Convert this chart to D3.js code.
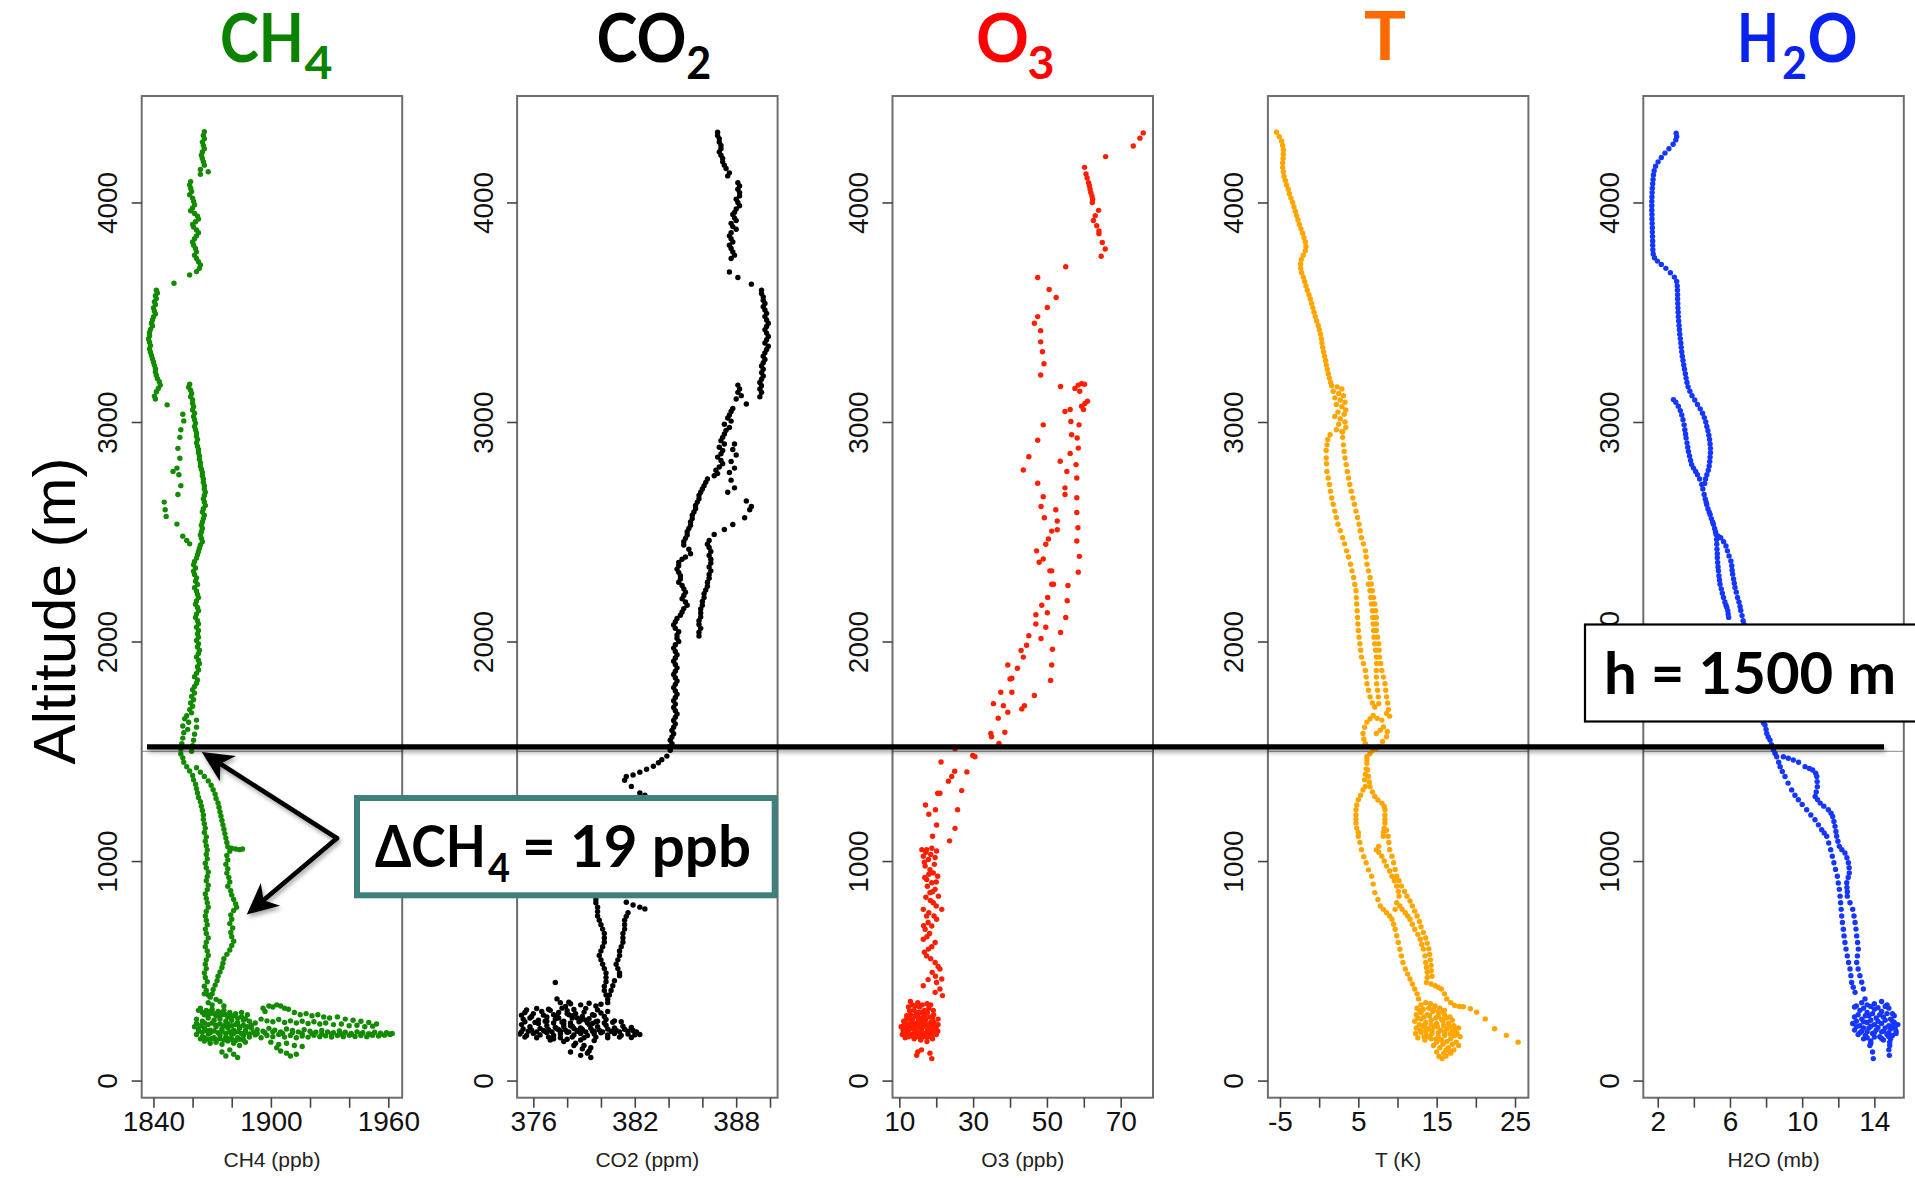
<!DOCTYPE html>
<html><head><meta charset="utf-8">
<script src="https://cdn.jsdelivr.net/npm/d3@7"></script>
<style>
html,body{margin:0;padding:0;background:#fff;}
svg{display:block;}
</style></head>
<body>
<svg id="chart" width="1915" height="1178"></svg>
<script>
// ---------------- DATA ----------------
const altitudeDomain = [-78, 4485];
const altitudeTicks = [0, 1000, 2000, 3000, 4000];
const boundaryAltitude = 1500;        // thin reference line in each panel
const boundaryLineAltitude = 1520;    // thick annotation line as drawn

const ch4Domain = [1834, 1967.1];
const ch4Ticks = [1840, 1860, 1880, 1900, 1920, 1940, 1960];
const ch4TickLabels = [1840, 1900, 1960];
const co2Domain = [375.04, 390.45];
const co2Ticks = [376, 378, 380, 382, 384, 386, 388, 390];
const co2TickLabels = [376, 382, 388];
const o3Domain = [8.15, 78.75];
const o3Ticks = [10, 20, 30, 40, 50, 60, 70];
const o3TickLabels = [10, 30, 50, 70];
const tDomain = [-6.54, 26.71];
const tTicks = [-5, 0, 5, 10, 15, 20, 25];
const tTickLabels = [-5, 5, 15, 25];
const h2oDomain = [1.2, 15.63];
const h2oTicks = [2, 4, 6, 8, 10, 12, 14];
const h2oTickLabels = [2, 6, 10, 14];

const axisTitles = ["CH4 (ppb)", "CO2 (ppm)", "O3 (ppb)", "T (K)", "H2O (mb)"];
const panelTitles = [[["CH", 0], ["4", 1]], [["CO", 0], ["2", 1]], [["O", 0], ["3", 1]], [["T", 0]], [["H", 0], ["2", 1], ["O", 0]]];
const yAxisTitle = "Altitude (m)";
const deltaLabel = [["ΔCH", 0], ["4", 1], ["= 19 ppb", 0]];
const heightLabel = "h = 1500 m";
// arrow annotation, in CH4 panel units [ppb, m]
const arrowApex = [1933.75, 1104];
const arrowTips = [[1864.7, 1497], [1887.7, 757]];

const ch4Data = [
[1866,4322],[1865.5,4305],[1866,4290],[1865,4275],[1865.5,4260],[1866,4245],[1865,4230],[1864.5,4215],[1865,4200],[1865.5,4185],[1866,4170],[1864,4150],[1868,4140],[1864,4128],
[1859,4095],[1858.5,4080],[1859,4065],[1859.5,4050],[1858.5,4035],[1860,4020],[1860.5,4005],[1861,3990],[1860,3975],[1859,3962],[1861,3950],[1862.5,3938],[1863,3925],[1861.5,3912],[1860,3900],[1860.5,3888],[1862,3875],[1863,3862],[1862,3848],[1861,3835],[1860,3820],[1860.5,3805],[1861.5,3790],[1862,3775],[1861,3760],[1862,3745],[1863,3730],[1864,3715],[1863.5,3700],[1862,3685],[1858.5,3670],
[1850.5,3632],
[1841.5,3600],[1842,3588],[1841,3575],[1841.5,3562],[1840.5,3548],[1841,3535],[1840,3520],[1840.5,3505],[1841,3492],[1840,3478],[1839.5,3465],[1839,3450],[1839.5,3437],[1838.5,3422],[1838,3408],[1838,3393],[1837.5,3378],[1838,3363],[1838.5,3348],[1838,3333],[1838.5,3318],[1839,3303],[1839.5,3288],[1840,3273],[1840.5,3258],[1841,3243],[1841,3228],[1841.5,3213],[1842,3198],[1843,3183],[1843.5,3168],[1842.5,3153],[1841.5,3138],[1840.5,3118],[1841,3105],
[1847,3078],
[1858.5,3172],[1858,3158],[1859,3145],[1859.5,3130],[1859,3115],[1860,3100],[1860,3085],[1860.5,3070],[1860,3055],[1861,3040],[1860.5,3025],[1861,3010],[1861.5,2995],[1861,2980],[1861.5,2965],[1862,2950],[1862,2935],[1862.5,2920],[1862,2905],[1862.5,2890],[1863,2875],[1863,2860],[1863.5,2845],[1863.5,2830],[1864,2815],[1864,2800],[1864.5,2785],[1865,2770],[1865,2755],[1865.5,2740],[1865.5,2725],[1866,2710],[1866,2695],[1866.5,2680],[1866,2665],[1865.5,2650],[1866,2635],[1866.5,2620],[1865.5,2605],[1865,2590],[1866,2575],[1865.5,2560],[1865,2545],[1864.5,2530],[1865,2515],[1864.5,2500],[1864,2485],[1864.5,2470],[1865,2455],[1864,2440],[1863.5,2425],[1863,2410],[1862.5,2395],
[1855,3035],[1855.5,3005],[1854,2965],[1853.5,2930],[1852.5,2880],[1853.5,2835],[1852,2790],[1850,2775],[1853,2760],[1854,2710],[1852.5,2670],[1845.5,2635],[1846,2600],[1846.5,2570],[1852,2535],[1855,2480],[1858.5,2445],[1857,2460],
[1862,2380],[1861,2365],[1860.5,2350],[1861.5,2335],[1860.5,2320],[1861,2305],[1862,2290],[1861.5,2275],[1862.5,2260],[1861,2245],[1862,2230],[1862.5,2215],[1863,2200],[1862,2185],[1861.5,2170],[1862.5,2155],[1863,2140],[1862,2125],[1861.5,2110],[1862.5,2095],[1863,2080],[1862,2065],[1863,2050],[1862.5,2035],[1863,2020],[1862,2005],[1863,1990],[1862.5,1975],[1863.5,1960],[1863,1945],[1862,1930],[1863,1915],[1863.5,1900],[1862.5,1885],[1863,1870],[1862,1855],[1861,1840],[1862.5,1825],[1862,1810],[1861,1795],[1860,1780],[1861,1765],[1859.5,1750],[1860.5,1735],[1859,1720],[1860,1705],[1858.5,1690],[1859.5,1675],[1857,1662],[1856,1648],[1858,1632],[1862,1642],[1855,1615],[1857.5,1600],[1862,1610],[1855.5,1585],[1861,1578],[1855,1560],[1860.5,1550],[1854.5,1535],[1860,1525],[1854,1510],[1859.5,1500],
[1854,1488],[1855,1470],[1855.5,1450],[1857,1430],[1858.5,1410],[1860,1390],[1860.5,1370],[1861.5,1350],[1862,1330],[1862.5,1310],[1863,1290],[1864,1270],[1864.5,1250],[1865,1230],[1865.5,1210],[1865.5,1190],[1866,1170],[1866.5,1150],[1866,1130],[1867,1110],[1866.5,1090],[1867,1070],[1867.5,1050],[1867,1030],[1867.5,1010],[1866.5,990],[1867,970],[1868,950],[1867.5,930],[1867,910],[1868,890],[1867.5,870],[1866.5,850],[1867,830],[1867.5,810],[1868,790],[1867,770],[1866.5,750],[1867,730],[1867.5,710],[1866.5,690],[1867,670],[1868,650],[1867,630],[1866.5,610],[1867.5,590],[1868,570],[1867,550],[1866.5,530],[1867,510],[1866,490],[1866.5,470],[1867.5,450],[1866,430],[1867,410],[1868,390],
[1862,1425],[1864,1405],[1866,1385],[1868,1365],[1869.5,1345],[1870.5,1325],[1871.5,1305],[1872,1285],[1873,1265],[1873.5,1245],[1874,1225],[1874.5,1205],[1875,1185],[1875.5,1165],[1876,1145],[1876.5,1125],[1877,1105],[1877.5,1085],[1878,1065],[1880,1058],[1882,1055],[1884,1052],[1885.5,1055],[1879,1045],[1877.5,1025],[1878,1005],[1877,985],[1878,965],[1877.5,945],[1878.5,925],[1879,905],[1878,885],[1879.5,865],[1880,845],[1881,825],[1882,805],[1882.5,790],[1881,775],[1879.5,755],[1880,735],[1879,715],[1880.5,695],[1879.5,675],[1880,655],[1881,635],[1880,615],[1879,595],[1877.5,575],[1876,555],[1875.5,535],[1875,515],[1874,495],[1873,475],[1872.5,455],[1871.5,435],[1870.5,415],[1870,395],
[1866,395],[1869,380],[1872,370],[1868,355],[1874,360],[1870,345],[1876,340],
[1864,330],[1867,320],[1870,325],[1873,315],[1876,320],[1879,310],[1882,305],[1885,310],[1888,300],[1866,300],[1869,305],[1872,295],[1875,300],[1878,290],
[1896,330],[1899,340],[1901,335],[1903,345],[1905,340],[1907,330],[1909,325],[1897,315],[1912,310],[1915,300],[1918,305],[1921,295],[1924,300],[1927,290],[1930,285],[1934,290],[1938,280],[1942,275],[1946,270],[1950,265],[1954,258],
[1862,280],[1865,270],[1868,285],[1871,275],[1874,280],[1877,270],[1880,275],[1883,265],[1886,275],[1889,270],[1892,262],[1895,280],[1898,272],[1901,268],[1904,278],[1907,265],[1910,272],[1913,262],[1916,270],[1919,260],[1922,268],[1925,258],[1928,262],[1932,255],[1936,258],[1940,250],[1944,252],[1948,245],[1952,248],
[1861,245],[1863,235],[1866,240],[1869,230],[1872,245],[1875,235],[1878,240],[1881,230],[1884,238],[1887,228],[1890,240],[1893,232],[1896,225],[1899,238],[1902,230],[1905,222],[1908,235],[1911,228],[1914,222],[1917,232],[1920,225],[1923,220],[1926,228],[1929,222],[1932,218],[1935,226],[1938,220],[1941,215],[1944,222],[1947,218],[1950,214],[1953,220],[1956,216],[1959,218],[1962,215],
[1862,210],[1865,200],[1868,212],[1871,195],[1874,205],[1877,198],[1880,210],[1883,195],[1886,205],[1889,198],[1892,208],[1895,195],[1898,205],[1901,200],[1904,210],[1907,198],[1910,205],[1913,195],[1916,203],[1919,198],[1922,206],[1925,200],[1928,204],[1931,198],[1934,205],[1937,200],[1940,206],[1943,201],[1946,205],[1949,200],[1952,206],[1955,203],[1958,207],[1961,210],
[1866,180],[1869,170],[1872,175],[1875,165],[1878,180],[1881,170],[1884,160],[1887,175],[1900,175],[1904,165],[1908,170],[1912,160],[1916,155],
[1875,130],[1877,112],[1879,140],[1881,120],[1883,105],[1903,150],[1905,135],[1908,125],[1910,112],[1913,120],
[1863,320],[1865,310],[1867,300],[1869,315],[1871,305],[1873,295],[1875,310],[1877,300],[1879,290],[1881,295],[1883,285],[1885,290],[1887,282],
[1862,260],[1864,250],[1866,262],[1868,255],[1870,262],[1872,252],[1874,258],[1876,250],[1878,258],[1880,250],[1882,255],[1884,245],[1886,252],[1888,245],[1890,252],
[1863,225],[1865,220],[1867,228],[1869,218],[1871,226],[1873,218],[1875,225],[1877,215],[1879,222],[1881,215],[1883,222],[1885,215],[1887,220],[1889,212],[1891,220],
[1864,190],[1866,195],[1868,188],[1870,192],[1872,185],[1874,190],[1876,185],[1878,192],[1880,188],[1882,182],[1884,188],[1886,185],
[1893,215],[1897,218],[1901,222],[1906,215],[1911,218],[1916,213],[1921,214],[1926,212],[1931,212],[1936,212],[1941,210],[1946,212],[1951,210],[1956,212],[1960,214]
];

const co2Data = [
[386.9,4320],[386.9,4305],[387,4290],[387,4275],[387.1,4260],[387.1,4245],[387,4230],[387.1,4215],[387.2,4200],[387.2,4185],[387.3,4170],[387.4,4155],[387.6,4135],[387.5,4121],
[388.1,4090],[388.2,4075],[388.1,4060],[388.2,4045],[388.2,4030],[388,4015],[388.1,4000],[388.2,3985],[388,3970],[387.9,3955],
[387.8,3945],[387.9,3930],[388,3918],[387.7,3905],[387.8,3890],[388,3878],
[387.7,3862],[387.6,3848],[387.7,3835],[387.8,3820],[387.6,3805],[387.7,3790],[387.8,3775],[387.9,3760],[387.7,3745],
[387.6,3683],[388.1,3658],[388.9,3628],
[389.5,3600],[389.5,3585],[389.6,3570],[389.6,3555],[389.7,3540],[389.6,3525],[389.7,3510],[389.8,3495],[389.7,3480],[389.8,3465],[389.9,3450],[389.8,3435],[389.7,3420],[389.8,3405],[389.9,3390],[389.8,3375],[389.7,3360],[389.9,3345],[389.8,3330],[389.7,3315],[389.6,3300],[389.7,3285],[389.6,3270],[389.5,3255],[389.6,3240],[389.5,3225],[389.6,3210],[389.5,3195],[389.4,3180],[389.5,3165],[389.4,3150],[389.5,3135],[389.4,3115],
[388.1,3168],[388.2,3150],[388.1,3135],[388.3,3120],[388,3105],[388.6,3082],
[387.8,3062],[387.7,3048],[387.6,3032],[387.5,3018],[387.7,3004],[387.3,2990],[387.6,2975],
[387.4,2962],[387.3,2945],[387.2,2930],[387.1,2915],[387.3,2900],[387,2885],[387.2,2870],[387.1,2855],[386.9,2840],[387.1,2825],[387.2,2810],[387,2795],[386.8,2780],[386.9,2765],[386.7,2755],
[387.9,2900],[387.8,2875],[388,2850],[387.7,2820],[387.9,2790],[387.6,2770],[387.7,2735],[387.9,2700],[387.5,2680],[388.6,2640],[388.8,2600],[388.9,2615],[388.5,2564],
[387.8,2533],[387.3,2510],[386.7,2488],[386.4,2460],[386.3,2443],
[386.4,2428],[386.5,2410],[386.4,2392],[386.5,2375],[386.5,2358],[386.4,2340],[386.5,2322],[386.4,2305],[386.4,2288],[386.3,2270],[386.3,2252],[386.2,2235],[386.1,2218],[386.1,2200],[386,2182],[386,2165],[385.9,2148],[385.9,2130],[385.9,2112],[385.8,2095],[385.8,2078],[385.9,2060],[385.8,2042],[385.8,2025],
[386.3,2740],[386.2,2725],[386.1,2710],[386,2695],[385.9,2680],[385.8,2665],[385.8,2650],[385.7,2635],[385.6,2620],[385.6,2605],[385.5,2590],[385.4,2575],[385.4,2560],[385.3,2545],[385.3,2530],[385.2,2515],[385.1,2500],[385.1,2485],[385,2470],[384.9,2455],[384.9,2440],[385.2,2420],[385.3,2400],[385,2385],[384.8,2375],[384.6,2360],[384.6,2345],[384.5,2330],[384.6,2315],[384.7,2300],[384.7,2285],[384.6,2270],[384.8,2255],[384.9,2240],[385,2225],[384.9,2210],[384.8,2195],[385,2180],[385.1,2165],[384.9,2150],[384.8,2135],[384.7,2120],[384.5,2105],[384.4,2090],[384.3,2075],[384.4,2060],[384.6,2045],[384.5,2030],[384.5,2015],[384.6,2000],[384.4,1985],[384.3,1970],[384.4,1955],[384.5,1940],[384.4,1925],[384.3,1910],[384.4,1895],[384.5,1880],[384.4,1865],[384.3,1850],[384.4,1835],[384.5,1820],[384.4,1805],[384.3,1790],[384.4,1775],[384.5,1760],[384.4,1745],[384.3,1730],[384.4,1715],[384.3,1700],[384.4,1685],[384.5,1670],[384.4,1655],[384.3,1640],[384.4,1625],[384.3,1610],[384.2,1595],[384.3,1580],[384.2,1565],[384.1,1550],[384.2,1535],[384,1520],[384.1,1505],
[383.9,1478],[383.6,1462],[383.4,1448],[383.1,1432],[382.7,1418],[382.3,1405],[381.9,1392],[381.5,1385],[381.4,1368],[381.8,1340],[382.3,1310],[382.6,1300],
[379.7,825],[379.7,810],[379.8,790],[379.8,770],[379.8,750],[379.9,730],[380,710],[380.1,690],[380.2,670],[380.2,650],[380.2,630],[380.1,610],[380,590],[379.9,570],[380,550],[380.1,530],[380.2,510],[380.3,490],[380.3,470],[380.3,450],[380.2,430],[380.2,410],[380.3,390],[380.4,370],[380.4,355],
[381.5,812],[381.9,800],[382.3,790],[382.6,782],[381.6,765],[381.5,748],[381.4,730],[381.4,710],[381.4,690],[381.3,670],[381.3,650],[381.3,630],[381.2,610],[381.1,590],[381.1,570],[381,550],[380.9,530],[381,510],[381.1,490],[381.1,478],[380.8,455],[380.7,432],[380.6,410],[380.5,390],
[377.3,447],[377.4,372],[378.1,357],
[377.6,355],[378.2,350],[378.8,345],[379.3,352],[379.7,340],[380,348],[377.9,338],
[375.5,310],[376,305],[376.5,315],[377,320],[377.5,310],[378,318],[378.5,305],[379,312],[379.5,300],[380,308],[380.4,315],[377.2,300],[378.3,295],
[375.4,280],[375.8,285],[376.3,275],[376.8,290],[377.3,280],[377.8,270],[378.3,285],[378.8,275],[379.3,282],[379.8,270],[380.3,278],[380.8,272],[381.2,268],
[375.3,255],[375.8,245],[376.3,260],[376.8,250],[377.3,242],[377.8,258],[378.3,248],[378.8,240],[379.3,255],[379.8,245],[380.3,252],[380.8,240],[381.3,248],[381.8,242],
[375.2,212],[375.6,205],[376,215],[376.4,208],[376.8,218],[377.2,205],[377.6,212],[378,220],[378.4,208],[378.8,215],[379.2,205],[379.6,212],[380,218],[380.4,208],[380.8,214],[381.2,206],[381.6,212],[382,208],[382.3,210],[376.6,228],[377.5,232],[378.6,228],[379.5,225],
[377,185],[377.8,178],[378.5,170],[379,160],[379.4,150],[378.2,130],[378.8,115],[379.4,105],[379.2,125],
[375.6,322],[376.2,328],[376.9,325],[377.7,330],[378.4,324],[379.1,329],[379.8,322],
[375.3,298],[375.9,292],[376.6,298],[377.4,295],[378.1,300],[378.9,292],[379.6,297],[380.2,292],
[375.5,268],[376.1,265],[376.7,270],[377.2,262],[377.7,266],[378.2,262],[378.7,268],[379.2,263],[379.7,268],[380.2,262],[380.7,266],
[375.4,235],[375.9,230],[376.4,238],[376.9,232],[377.4,236],[377.9,230],[378.4,237],[378.9,233],[379.4,238],[379.9,230],[380.4,235],[380.9,230],[381.4,234],[381.9,228],
[375.3,222],[375.7,225],[376.2,222],[376.7,225],[377.1,222],[377.6,225],[378.1,222],[378.6,225],[379.1,222],[379.6,225],[380.1,222],[380.6,225],[381.1,222],[381.6,225],[382.1,222],
[375.5,198],[376.2,195],[376.9,198],[377.6,195],[378.3,198],[379,195],[379.7,198],[380.4,195],[381.1,198],[381.8,196],
[376.8,270],[377.5,285],[378,305],[378.6,285],[379.1,275],[378.2,250],[377.8,245],[379.5,260],
[377.2,190],[378,188],[378.8,185],[379.6,182],[378.4,160],[378.9,145],[379.3,135]
];

const o3Data = [
[76.1,4317],[75.2,4293],[73.4,4257],[65.9,4209],[60.2,4160],[60.6,4130],[60.9,4112],[61.3,4090],[61.5,4076],[61.7,4060],[61.9,4045],[62.2,4030],[62.4,4015],[62.3,4000],[64,3964],[63.1,3940],[62.6,3918],[63.5,3894],[64.1,3870],[64.1,3858],[65,3818],[65.8,3788],[64.7,3755],[55.1,3707],[47.5,3658],[50.6,3604],[52.5,3567],[50.1,3522],[47.5,3480],[46.6,3450],[48.3,3416],[48.3,3365],[48.8,3320],[49.2,3265],[48.3,3214],[53.7,3162],
[58.5,3168],[59.4,3175],[60.2,3172],[57.6,3153],[58.9,3140],[60.3,3084],[61,3095],[59.4,3072],[56.3,3057],[54.9,3048],[59.9,3057],[56.5,3002],[58.7,2987],[49,2987],[56.7,2942],[58.2,2927],[47.5,2917],[58.5,2881],[56.3,2857],[53.6,2821],[45.1,2842],[43.6,2781],[57.9,2806],[55.4,2775],[58.1,2745],[47.5,2721],[54.9,2700],[58.1,2655],[49,2660],[48.4,2615],[54.9,2670],[58.1,2588],[52.4,2600],[49.3,2564],[52.8,2549],[58.4,2518],[51.3,2503],[52.8,2509],[50.4,2467],[58.1,2458],[49.7,2443],[47.2,2413],[58.8,2388],[49,2376],[47.9,2361],[50.8,2322],[51.3,2322],[58.5,2316],[51.3,2261],[51.8,2261],[55.7,2255],[50.2,2201],[55.5,2186],[48.6,2165],[47,2122],[50.1,2131],[55.1,2110],[47,2080],[49.7,2065],[53.7,2041],[45.1,2026],[48.4,2014],[44.5,1983],[43,1959],[51.5,1965],[43.6,1929],[39.4,1893],[42,1878],[51.3,1893],[40,1829],[40.5,1833],[51,1823],[37.5,1769],[40.5,1769],[46.6,1754],[35.5,1717],[38.2,1708],[43.9,1708],[43.2,1693],[39.4,1678],[36.8,1651],[38.6,1587],[34.8,1581],[35,1566],[37,1536],
[30.5,1475],[25.1,1512],[21.3,1451],[29.9,1481],[25,1409],[28.3,1406],[24.2,1385],[23.3,1364],[26.9,1321],[20.4,1309],[21,1309],[17.1,1255],[19.8,1234],[18,1213],[25.8,1234],[20.1,1164],[25.1,1149],[19,1113],[23.6,1092],
[16.1,1052],[17.4,1052],[18.8,1058],[20.1,1046],[16.5,1022],[17.9,1007],[19.7,1016],[17,977],[18.3,961],[19.2,946],[20.4,931],[17.4,916],[18.8,901],[19.7,871],[18.3,856],[20.6,840],[21.5,780],[19.2,810],[16.5,780],[17.4,750],[20.1,735],[18.8,704],[17,689],[16.5,644],[19.7,629],[17.9,599],[17.4,568],[19.7,538],[21,508],[18.9,493],[21.5,463],[20.1,447],[16.5,432],[21,417],[19.7,402],[21.7,387],
[17.2,1040],[18.5,1030],[16.8,995],[19.5,985],[18,940],[16.9,925],[20,905],[17.6,885],[19,860],[17.2,835],[18.4,820],[20,795],[18,765],[19.4,750],[17.8,720],[16.6,705],[18.2,670],[17.5,655],[18.8,610],[16.8,585],[18.5,555],[20.5,520],[19.8,475],[17.8,460],
[11,230],[11.5,215],[12,240],[12.5,225],[13,250],[13.5,210],[14,235],[14.5,260],[15,220],[15.5,245],[16,230],[16.5,270],[17,215],[17.5,250],[18,235],[18.5,265],[19,225],[19.5,245],[20,230],[20.5,255],[12,280],[13,300],[14,320],[15,290],[16,310],[17,295],[18,330],[19,285],[13.5,345],[15.5,335],[17.5,350],[12.5,200],[14,190],[16,195],[18,200],[20,210],[11.8,260],[13.2,270],[15.2,275],[17.2,280],[19.3,300],[20.5,280],[16.8,320],[14.6,305],[12.8,318],[15.8,185],[17.5,178],[19,190],[18.8,240],[14.2,250],[16.2,255],
[14.7,115],[18.8,100],[18.3,125],[16,140],[15,130],
[10.5,245],[11.2,250],[11.8,225],[12.3,255],[12.8,235],[13.4,260],[14,215],[14.6,240],[15.2,265],[15.8,215],[16.4,245],[17,265],[17.6,230],[18.2,255],[18.8,215],[19.4,265],[20,245],
[10.8,210],[11.6,195],[12.4,215],[13.2,205],[14.8,200],[15.6,205],[16.4,215],[17.2,200],[18,218],[18.8,205],[19.6,220],[20.4,225],
[11.2,270],[12,295],[12.8,285],[13.6,280],[14.4,295],[15.2,310],[16,285],[16.8,300],[17.6,310],[18.4,290],[19.2,320],[12.5,335],[14.2,340],[16.2,345],[18.5,345],[13,360],[15,355]
];

const tData = [
[-5.43,4320],[-5.09,4300],[-4.79,4280],[-4.66,4260],[-4.57,4240],[-4.57,4220],[-4.6,4200],[-4.66,4180],[-4.66,4160],[-4.57,4140],[-4.49,4120],[-4.32,4100],[-4.15,4080],[-3.94,4060],[-3.81,4040],[-3.6,4020],[-3.38,4000],[-3.21,3980],[-3.04,3960],[-2.87,3940],[-2.7,3920],[-2.53,3900],[-2.32,3880],[-2.1,3860],[-1.94,3840],[-1.77,3820],[-1.68,3800],[-1.77,3780],[-2.02,3760],[-2.28,3740],[-2.36,3720],[-2.36,3700],[-2.23,3680],[-2.02,3660],[-1.85,3640],[-1.68,3620],[-1.51,3600],[-1.3,3580],[-1.13,3560],[-0.96,3540],[-0.79,3520],[-0.66,3500],[-0.49,3480],[-0.32,3460],[-0.11,3440],[0.02,3420],[0.19,3400],[0.28,3380],[0.36,3360],[0.45,3340],[0.57,3320],[0.7,3300],[0.83,3280],[0.91,3260],[1.04,3240],[1.17,3220],[1.3,3200],[1.47,3180],
[1.6,3165],[2.3,3160],[2.9,3150],[1.8,3140],[2.5,3130],[3.1,3120],[2,3110],[2.7,3100],[3.3,3090],[2.2,3080],[2.9,3070],[3.4,3055],[2.4,3045],[3.2,3035],[2,3025],[2.7,3015],[3.3,3000],[2.5,2990],[3.4,2975],[2.2,2965],[3,2955],
[1.4,2942],[1.1,2920],[1.0,2896],[0.9,2870],[0.9,2836],[0.95,2810],[1.0,2775],[1.15,2745],[1.3,2715],[1.45,2685],[1.6,2654],[1.8,2625],[2.0,2594],[2.2,2565],[2.4,2534],[2.7,2505],[3.0,2473],[3.25,2445],[3.5,2413],[3.75,2385],[4.0,2352],[4.2,2322],[4.4,2292],[4.55,2260],[4.7,2231],[4.75,2200],[4.8,2171],[4.85,2140],[4.9,2110],[4.95,2080],[5.0,2050],[5.1,2020],[5.2,1990],[5.3,1960],[5.4,1929],[5.65,1900],[5.9,1868],[6.0,1838],[6.1,1808],[6.3,1778],[6.5,1748],[6.8,1720],[7.1,1702],
[2.9,2957],[3.0,2930],[3.1,2896],[3.2,2866],[3.3,2836],[3.45,2806],[3.6,2775],[3.75,2745],[3.9,2715],[4.1,2685],[4.3,2654],[4.5,2625],[4.7,2594],[4.9,2565],[5.1,2534],[5.25,2505],[5.4,2473],[5.65,2445],[5.9,2413],[6.0,2385],[6.1,2352],[6.3,2322],[6.5,2292],[6.65,2262],[6.8,2231],[6.95,2200],[7.1,2171],[7.2,2140],[7.3,2110],[7.3,2080],[7.3,2050],[7.45,2020],[7.6,1990],[7.65,1960],[7.7,1929],[7.85,1900],[8.0,1868],[8.2,1838],[8.4,1808],[8.5,1778],[8.6,1748],[8.75,1720],[8.85,1690],[9.0,1660],
[6.3,2261],[6.5,2231],[6.6,2201],[6.7,2171],[6.8,2140],[6.85,2110],[6.9,2080],[6.95,2050],[7.0,2020],[7.1,1990],[7.2,1960],[7.3,1929],[7.35,1900],[7.3,1868],[7.3,1838],[7.35,1808],[7.45,1778],[7.55,1748],[7.6,1717],
[8.6,1672],[8.0,1642],[7.4,1650],[6.9,1663],[6.5,1648],[6.1,1633],[5.8,1610],[5.6,1581],[5.7,1556],[5.9,1536],[7.3,1581],[7.8,1596],[8.2,1611],[8.7,1590],[8.6,1566],[8.1,1545],[7.6,1521],[7.2,1512],[6.9,1506],[6.5,1490],[6.1,1475],
[6.1,1460],[6.1,1445],[6.2,1415],[6.3,1385],[6.4,1360],[6.5,1339],[6.8,1315],[7.1,1294],[7.5,1278],[8.0,1264],[8.3,1250],[8.4,1234],[8.4,1210],[8.4,1190],[8.4,1173],[8.3,1150],[8.2,1130],[8.2,1113],[7.6,1067],[7.3,1052],[7.6,1040],[8.0,1022],[8.3,1000],[8.6,977],[9.0,955],[9.3,931],[9.6,910],[9.9,886],[10.1,862],[10.2,840],[9.9,810],[9.7,780],[10.3,795],[10.6,780],[11.0,765],[11.3,750],[11.6,735],[11.9,712],[12.2,689],[12.6,666],[12.9,644],[13.1,620],[13.3,599],[13.5,568],[13.6,538],[13.7,515],[13.8,493],[13.8,470],[13.7,447],[14.3,440],[14.8,432],[15.2,425],[15.6,417],[16.0,395],[16.3,372],[16.8,355],[17.3,342],[17.9,338],[18.4,336],[19.3,327],[20.1,311],[21.2,281],[22.4,236],[23.9,206],[25.4,175],
[8.6,1140],[8.8,1113],[8.9,1085],[9.0,1052],[9.3,1022],[9.5,992],[9.7,962],[9.9,931],[10.2,910],[10.5,886],[10.9,862],[11.2,840],[11.6,818],[11.9,795],[12.2,772],[12.5,750],[12.8,725],[13.0,700],[13.3,675],[13.6,650],[13.8,625],[14.0,600],[14.1,575],[14.2,550],[14.3,525],[14.3,500],[14.4,475],
[6.0,1420],[5.9,1395],[5.8,1370],[5.9,1340],[5.6,1324],[5.3,1300],[5.0,1279],[4.8,1255],[4.7,1234],[4.7,1210],[4.7,1190],[4.7,1173],[4.8,1150],[5.0,1130],[5.0,1113],[5.2,1085],[5.4,1052],[5.7,1020],[6.0,992],[6.3,960],[6.7,931],[6.9,895],[7.1,856],[7.5,825],[7.8,795],[8.2,780],[8.6,765],[9.0,750],[9.3,735],[9.5,712],[9.7,689],[9.9,660],[10.1,629],[10.3,598],[10.5,568],[10.7,538],[11.0,508],[11.3,485],[11.6,463],[11.9,440],[12.2,417],[12.5,395],[12.7,372],
[12.5,330],[13.0,345],[13.6,355],[14.2,350],[14.8,340],[15.4,330],[16,320],[12.4,300],[13,310],[13.8,300],[14.5,315],[15.2,295],[16,300],[16.7,290],[12.2,270],[13,280],[13.6,265],[14.3,275],[15,260],[15.8,270],[16.5,260],[17.2,250],[17.8,240],[12.4,240],[13.2,250],[14,235],[14.7,245],[15.5,230],[16.3,235],[17,225],[17.6,215],[18,200],[12.3,215],[13,220],[13.7,205],[14.4,215],[15.2,200],[16,205],[16.8,190],[17.5,175],[17.8,160],[12.6,195],[13.5,185],[14.3,190],[15,175],[15.8,165],[16.5,150],[17.2,140],[16.8,125],[16.2,112],[15.7,100],[15.3,110],[15,130],[15.4,150],[14.6,160],
[12.8,320],[13.3,325],[14,330],[14.6,325],[15.2,315],[15.8,310],[12.6,285],[13.4,290],[14.1,295],[14.9,285],[15.6,280],[16.3,285],[17,275],[12.8,255],[13.5,245],[14.3,255],[15.1,245],[15.9,250],[16.7,245],[17.4,235],[12.9,230],[13.6,225],[14.4,228],[15.2,218],[16,220],[16.7,212],[17.3,205],[13.4,200],[14.1,198],[14.9,188],[15.6,185],[16.3,178],[17,165],[16.2,140],[16.6,135],[15.9,125]
];

const h2oData = [
[3.02,4315],[3.05,4300],[3.0,4285],[2.85,4265],[2.62,4245],[2.4,4225],[2.2,4205],[2.02,4185],[1.88,4165],[1.8,4145],[1.76,4125],[1.74,4105],[1.72,4085],[1.7,4065],[1.69,4045],[1.68,4025],[1.67,4005],[1.67,3985],[1.67,3965],[1.68,3945],[1.68,3925],[1.69,3905],[1.7,3885],[1.7,3865],[1.71,3845],[1.72,3825],[1.72,3805],[1.73,3785],[1.75,3765],[1.82,3748],[1.98,3733],[2.2,3718],[2.45,3700],[2.7,3680],[2.92,3660],[3.05,3640],[3.08,3620],[3.09,3600],[3.1,3580],[3.1,3560],[3.11,3540],[3.12,3520],[3.13,3500],[3.14,3480],[3.16,3460],[3.18,3440],[3.2,3420],[3.22,3400],[3.25,3380],[3.28,3360],[3.3,3340],[3.33,3320],[3.36,3300],[3.4,3280],[3.44,3260],[3.48,3240],[3.53,3220],[3.57,3200],[3.62,3180],[3.68,3160],[3.78,3140],[3.9,3120],[4.05,3100],[4.2,3080],[4.35,3060],[4.48,3040],[4.58,3020],[4.66,3000],[4.72,2980],[4.78,2960],[4.83,2940],[4.87,2920],[4.9,2900],[4.92,2880],[4.92,2860],[4.9,2840],[4.88,2820],[4.85,2800],[4.8,2780],[4.72,2760],[4.65,2740],[4.6,2720],
[2.87,3102],[3.0,3090],[3.14,3072],[3.25,3052],[3.33,3032],[3.4,3010],[3.46,2987],[3.5,2965],[3.54,2945],[3.57,2927],[3.62,2905],[3.66,2885],[3.7,2866],[3.76,2845],[3.82,2825],[3.88,2806],[3.98,2790],[4.1,2775],[4.2,2760],[4.32,2740],[4.44,2715],[4.5,2695],[4.57,2670],
[4.63,2650],[4.68,2635],[4.71,2624],[4.78,2605],[4.85,2590],[4.9,2579],[4.97,2560],[5.04,2545],[5.08,2534],[5.15,2515],[5.2,2500],[5.23,2488],
[5.35,2480],[5.49,2473],[5.65,2455],[5.78,2435],[5.86,2413],[5.95,2390],[6.05,2367],[6.1,2345],[6.12,2325],[6.15,2307],[6.2,2285],[6.24,2266],[6.28,2246],[6.35,2225],[6.42,2201],[6.5,2180],[6.56,2160],[6.6,2141],[6.67,2118],[6.73,2095],[6.78,2078],
[5.26,2465],[5.27,2443],[5.28,2420],[5.3,2400],[5.3,2382],[5.32,2360],[5.34,2340],[5.36,2322],[5.39,2300],[5.42,2280],[5.45,2261],[5.52,2240],[5.58,2220],[5.64,2201],[5.72,2180],[5.78,2165],[5.82,2156],[5.88,2140],[5.9,2125],[5.93,2110],
[7.85,1630],[7.94,1620],[8.0,1600],[8.04,1581],[8.12,1565],[8.22,1551],[8.3,1530],[8.41,1506],[8.5,1490],[8.59,1475],
[8.96,1475],[9.23,1468],[9.51,1460],[9.8,1450],[10.16,1430],[10.4,1422],[10.58,1415],[10.75,1400],[10.81,1385],[10.83,1362],[10.84,1339],[10.78,1315],[10.72,1294],[10.85,1280],[11.0,1264],[11.2,1250],[11.45,1234],[11.6,1218],[11.69,1203],[11.76,1180],[11.82,1158],[11.87,1135],[11.91,1113],[11.98,1090],[12.06,1067],[12.2,1052],[12.37,1037],[12.48,1015],[12.56,992],[12.6,970],[12.61,946],[12.55,925],[12.47,901],[12.48,880],[12.5,860],[12.5,840],[12.65,810],[12.8,780],[12.87,750],[12.93,720],[12.98,690],[13.02,659],[13.07,629],[13.11,599],[13.06,568],[13.02,538],[13.1,508],[13.2,478],[13.3,448],[13.39,417],[13.48,372],
[8.7,1450],[8.78,1430],[8.9,1408],[9.05,1385],[9.22,1355],[9.42,1324],[9.6,1300],[9.79,1279],[10.0,1258],[10.25,1234],[10.48,1210],[10.71,1188],[10.9,1165],[11.08,1143],[11.22,1128],[11.36,1113],[11.47,1082],[11.58,1052],[11.67,1022],[11.76,992],[11.85,962],[11.95,931],[12.0,900],[12.06,871],[12.1,840],[12.13,810],[12.16,780],[12.19,750],[12.23,720],[12.28,689],[12.32,659],[12.37,629],[12.43,599],[12.5,568],[12.57,538],[12.65,508],[12.7,478],[12.74,447],[12.83,425],[12.93,402],
[13.0,340],[13.3,355],[13.6,345],[14.0,350],[14.4,360],[14.7,345],[13.2,320],[13.6,310],[14.0,325],[14.4,315],[14.8,330],[15.0,305],[12.9,290],[13.3,280],[13.7,295],[14.1,285],[14.5,290],[14.9,280],[15.1,265],[12.8,260],[13.2,250],[13.6,265],[14.0,255],[14.4,260],[14.8,250],[15.15,240],[12.9,230],[13.3,225],[13.7,240],[14.1,230],[14.5,225],[14.9,235],[15.2,225],[13.1,210],[13.5,205],[13.9,215],[14.3,200],[14.7,210],[15.0,205],[13.4,190],[13.8,180],[14.5,185],[14.9,190],[13.75,160],[13.9,130],[13.94,100],[14.83,115],[14.8,140],[14.85,160],
[12.9,335],[13.4,330],[13.8,338],[14.2,332],[14.6,338],[13.1,300],[13.5,295],[13.9,305],[14.3,300],[14.7,305],[15.1,295],[13.0,270],[13.4,268],[13.8,275],[14.2,270],[14.6,275],[15.0,270],[15.3,255],[13.0,245],[13.4,240],[13.8,248],[14.2,242],[14.6,240],[15.0,248],[13.2,218],[13.6,222],[14.0,218],[14.4,222],[14.8,218],[15.2,215],[13.6,195],[14.0,198],[14.4,192],[14.8,200],[13.8,170],[14.85,175]
];

// ---------------- LAYOUT / STYLE ----------------
const plotTop = 96, plotBottom = 1097.7;
const panelLeft0 = 141.7, panelStep = 375.4, panelWidth = 260.5;
const tickFont = "'Liberation Sans', Arial, Helvetica, sans-serif";
const titleFont = "Lato, 'Open Sans', sans-serif";

const panels = [
  {data: ch4Data, domain: ch4Domain, ticks: ch4Ticks, labels: ch4TickLabels, dot: "#138b00", title: "#0b8200",
   titleLayout: [[220, 84, 0], [304.5, 28, 1]]},
  {data: co2Data, domain: co2Domain, ticks: co2Ticks, labels: co2TickLabels, dot: "#000000", title: "#000000",
   titleLayout: [[596.5, 90, 0], [686.3, 25, 1]]},
  {data: o3Data, domain: o3Domain, ticks: o3Ticks, labels: o3TickLabels, dot: "#ff1e00", title: "#ff0000",
   titleLayout: [[976, 53, 0], [1027.5, 27, 1]]},
  {data: tData, domain: tDomain, ticks: tTicks, labels: tTickLabels, dot: "#ffa500", title: "#ff6a00",
   titleLayout: [[1364, 42, 0]]},
  {data: h2oData, domain: h2oDomain, ticks: h2oTicks, labels: h2oTickLabels, dot: "#1536ff", title: "#0a22f0",
   titleLayout: [[1737, 42, 0], [1782.1, 25, 1], [1807.5, 50.2, 0]]}
];

const svg = d3.select("#chart");
const defs = svg.append("defs");
const filt = defs.append("filter").attr("id", "shadow").attr("filterUnits", "userSpaceOnUse")
  .attr("x", 0).attr("y", 0).attr("width", 1915).attr("height", 1178);
filt.append("feDropShadow").attr("dx", 1.5).attr("dy", 3).attr("stdDeviation", 2)
  .attr("flood-color", "#000").attr("flood-opacity", 0.35);
defs.append("marker").attr("id", "head").attr("markerUnits", "userSpaceOnUse")
  .attr("viewBox", "-34 -17 36 34").attr("refX", -14).attr("refY", 0)
  .attr("markerWidth", 36).attr("markerHeight", 34).attr("orient", "auto")
  .append("path").attr("d", "M0,0 L-31,-15 L-22,0 L-31,15 Z").attr("fill", "#000");

const y = d3.scaleLinear().domain(altitudeDomain).range([plotBottom, plotTop]);
let ch4X = null;

panels.forEach((p, i) => {
  const left = panelLeft0 + i * panelStep;
  const x = d3.scaleLinear().domain(p.domain).range([left, left + panelWidth]);
  if (i === 0) ch4X = x;
  const g = svg.append("g");

  g.append("line").attr("x1", left).attr("x2", left + panelWidth)
    .attr("y1", y(boundaryAltitude)).attr("y2", y(boundaryAltitude))
    .attr("stroke", "#a0a0a0").attr("stroke-width", 1.3);

  g.append("g").selectAll("circle").data(p.data).join("circle")
    .attr("cx", d => x(d[0])).attr("cy", d => y(d[1])).attr("r", 2.7)
    .attr("fill", p.dot);

  g.append("rect").attr("x", left).attr("y", plotTop).attr("width", panelWidth)
    .attr("height", plotBottom - plotTop).attr("fill", "none")
    .attr("stroke", "#6e6e6e").attr("stroke-width", 2);

  const xa = g.append("g").attr("transform", `translate(0,${plotBottom})`)
    .call(d3.axisBottom(x).tickValues(p.ticks).tickSize(10).tickPadding(3)
      .tickFormat(d => p.labels.includes(d) ? String(d) : ""));
  xa.select(".domain").remove();
  xa.selectAll(".tick line").attr("stroke", "#444").attr("stroke-width", 1.6);
  xa.selectAll(".tick text").attr("font-family", tickFont).attr("font-size", 28).attr("fill", "#111");

  const ya = g.append("g").attr("transform", `translate(${left},0)`)
    .call(d3.axisLeft(y).tickValues(altitudeTicks).tickSize(10).tickFormat(d => String(d)));
  ya.select(".domain").remove();
  ya.selectAll(".tick line").attr("stroke", "#444").attr("stroke-width", 1.6);
  ya.selectAll(".tick text").attr("font-family", tickFont).attr("font-size", 28).attr("fill", "#111")
    .attr("transform", "rotate(-90)").attr("x", 0).attr("y", -24.5).attr("dy", 0)
    .attr("text-anchor", "middle");

  g.append("text").attr("x", left + panelWidth / 2).attr("y", 1167)
    .attr("text-anchor", "middle").attr("font-family", tickFont).attr("font-size", 21)
    .attr("fill", "#222").text(axisTitles[i]);

  panelTitles[i].forEach((seg, k) => {
    const lay = p.titleLayout[k];
    const sub = seg[1] === 1;
    g.append("text").attr("x", lay[0]).attr("y", sub ? 79 : (i === 3 ? 59.5 : 61.5))
      .attr("font-family", titleFont).attr("font-weight", 700)
      .attr("font-size", sub ? 45 : 67).attr("fill", p.title)
      .attr("textLength", lay[1]).attr("lengthAdjust", "spacingAndGlyphs")
      .text(seg[0]);
  });
});

svg.append("text").attr("transform", "translate(75,611) rotate(-90)")
  .attr("text-anchor", "middle").attr("font-family", tickFont).attr("font-size", 60)
  .attr("fill", "#000").text(yAxisTitle);

svg.append("line").attr("x1", panelLeft0 + 5.3).attr("x2", 1884)
  .attr("y1", y(boundaryLineAltitude)).attr("y2", y(boundaryLineAltitude))
  .attr("stroke", "#000").attr("stroke-width", 5.3).attr("filter", "url(#shadow)");

const ag = svg.append("g").attr("filter", "url(#shadow)");
arrowTips.forEach(t => {
  const x0 = ch4X(arrowApex[0]), y0 = y(arrowApex[1]);
  const x1 = ch4X(t[0]), y1 = y(t[1]);
  const dx = x1 - x0, dy = y1 - y0, L = Math.hypot(dx, dy);
  const ex = x1 - dx / L * 14, ey = y1 - dy / L * 14;
  ag.append("path").attr("d", `M${x0},${y0} L${ex},${ey}`)
    .attr("stroke", "#000").attr("stroke-width", 4.6).attr("fill", "none")
    .attr("stroke-linecap", "round").attr("marker-end", "url(#head)");
});

const dg = svg.append("g");
dg.append("rect").attr("x", 357).attr("y", 798).attr("width", 417.7).attr("height", 97.3)
  .attr("fill", "#fff").attr("stroke", "#3f807c").attr("stroke-width", 6);
const deltaLayout = [[375, 111], [488, 22], [522, 229]];
deltaLabel.forEach((seg, k) => {
  const sub = seg[1] === 1;
  dg.append("text").attr("x", deltaLayout[k][0]).attr("y", sub ? 881.7 : 866.7)
    .attr("font-family", titleFont).attr("font-weight", 700)
    .attr("font-size", sub ? 40 : 58).attr("fill", "#000")
    .attr("textLength", deltaLayout[k][1]).attr("lengthAdjust", "spacingAndGlyphs")
    .text(seg[0]);
});

const hg = svg.append("g");
hg.append("rect").attr("x", 1585).attr("y", 624.5).attr("width", 360).attr("height", 97)
  .attr("fill", "#fff").attr("stroke", "#000").attr("stroke-width", 2.2);
hg.append("text").attr("x", 1604).attr("y", 694.3)
  .attr("font-family", titleFont).attr("font-weight", 700).attr("font-size", 58)
  .attr("fill", "#000").attr("textLength", 292).attr("lengthAdjust", "spacingAndGlyphs")
  .text(heightLabel);
</script>
</body></html>
